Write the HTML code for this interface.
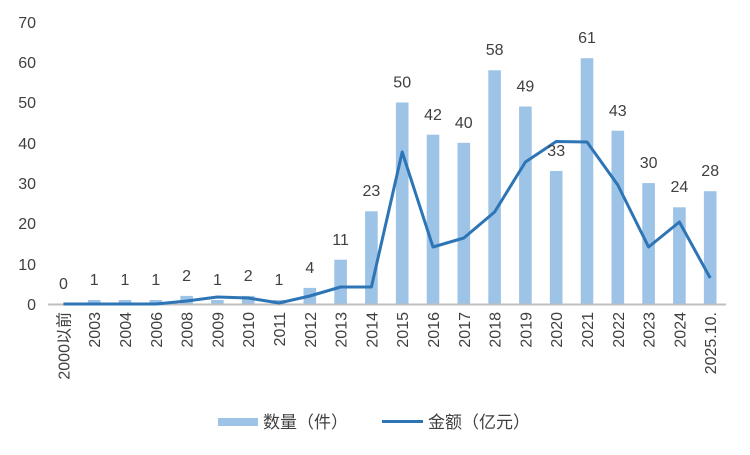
<!DOCTYPE html>
<html><head><meta charset="utf-8"><style>
html,body{margin:0;padding:0;background:#fff;}
svg text{font-family:"Liberation Sans","Noto Sans CJK SC",sans-serif;fill:#404040;}
</style></head><body>
<svg width="750" height="450" viewBox="0 0 750 450" xmlns="http://www.w3.org/2000/svg">
<g font-size="16" text-anchor="end">
<text x="36" y="310">0</text><text x="36" y="270">10</text><text x="36" y="229">20</text><text x="36" y="189">30</text><text x="36" y="149">40</text><text x="36" y="108">50</text><text x="36" y="68">60</text><text x="36" y="28">70</text>
</g>
<g fill="#9dc3e6">
<rect x="87.9" y="300" width="12.6" height="4"/>
<rect x="118.7" y="300" width="12.6" height="4"/>
<rect x="149.5" y="300" width="12.6" height="4"/>
<rect x="180.3" y="295.9" width="12.6" height="8.1"/>
<rect x="211.1" y="300" width="12.6" height="4"/>
<rect x="241.9" y="295.9" width="12.6" height="8.1"/>
<rect x="272.7" y="300" width="12.6" height="4"/>
<rect x="303.5" y="287.9" width="12.6" height="16.1"/>
<rect x="334.3" y="259.7" width="12.6" height="44.3"/>
<rect x="365.1" y="211.3" width="12.6" height="92.7"/>
<rect x="395.9" y="102.5" width="12.6" height="201.5"/>
<rect x="426.7" y="134.7" width="12.6" height="169.3"/>
<rect x="457.5" y="142.8" width="12.6" height="161.2"/>
<rect x="488.3" y="70.3" width="12.6" height="233.7"/>
<rect x="519.1" y="106.5" width="12.6" height="197.5"/>
<rect x="549.9" y="171" width="12.6" height="133"/>
<rect x="580.7" y="58.2" width="12.6" height="245.8"/>
<rect x="611.5" y="130.7" width="12.6" height="173.3"/>
<rect x="642.3" y="183.1" width="12.6" height="120.9"/>
<rect x="673.1" y="207.3" width="12.6" height="96.7"/>
<rect x="703.9" y="191.2" width="12.6" height="112.8"/>
</g>
<line x1="48" y1="304.5" x2="726" y2="304.5" stroke="#bfbfbf" stroke-width="2"/>
<polyline fill="none" stroke="#2e75b6" stroke-width="3" stroke-linejoin="round" points="63.4,304 94.2,304 125,304 155.8,304 186.6,301 217.4,297 248.2,298 279,303 309.8,296 340.6,287 371.4,287 402.2,152 433,247 463.8,238 494.6,212 525.4,162 556.2,141.5 587,142 617.8,185 648.6,247 679.4,222 710.2,278"/>
<g font-size="16" text-anchor="middle">
<text x="63.4" y="289">0</text><text x="94.2" y="285">1</text><text x="125" y="285">1</text><text x="155.8" y="285">1</text><text x="186.6" y="281">2</text><text x="217.4" y="285">1</text><text x="248.2" y="281">2</text><text x="279" y="285">1</text><text x="309.8" y="273">4</text><text x="340.6" y="245">11</text><text x="371.4" y="196">23</text><text x="402.2" y="87.5">50</text><text x="433" y="120">42</text><text x="463.8" y="128">40</text><text x="494.6" y="55">58</text><text x="525.4" y="91.5">49</text><text x="556.2" y="156">33</text><text x="587" y="43">61</text><text x="617.8" y="116">43</text><text x="648.6" y="168">30</text><text x="679.4" y="192">24</text><text x="710.2" y="176">28</text>
</g>
<g font-size="16" text-anchor="end">
<text transform="translate(69.4,312) rotate(-90)">2000以前</text>
<text transform="translate(100.2,312) rotate(-90)">2003</text>
<text transform="translate(131,312) rotate(-90)">2004</text>
<text transform="translate(161.8,312) rotate(-90)">2006</text>
<text transform="translate(192.6,312) rotate(-90)">2008</text>
<text transform="translate(223.4,312) rotate(-90)">2009</text>
<text transform="translate(254.2,312) rotate(-90)">2010</text>
<text transform="translate(285,312) rotate(-90)">2011</text>
<text transform="translate(315.8,312) rotate(-90)">2012</text>
<text transform="translate(346.6,312) rotate(-90)">2013</text>
<text transform="translate(377.4,312) rotate(-90)">2014</text>
<text transform="translate(408.2,312) rotate(-90)">2015</text>
<text transform="translate(439,312) rotate(-90)">2016</text>
<text transform="translate(469.8,312) rotate(-90)">2017</text>
<text transform="translate(500.6,312) rotate(-90)">2018</text>
<text transform="translate(531.4,312) rotate(-90)">2019</text>
<text transform="translate(562.2,312) rotate(-90)">2020</text>
<text transform="translate(593,312) rotate(-90)">2021</text>
<text transform="translate(623.8,312) rotate(-90)">2022</text>
<text transform="translate(654.6,312) rotate(-90)">2023</text>
<text transform="translate(685.4,312) rotate(-90)">2024</text>
<text transform="translate(716.2,312) rotate(-90)">2025.10.</text>
</g>
<rect x="218" y="418" width="40" height="8" fill="#9dc3e6"/>
<text x="263" y="428" font-size="17">数量（件）</text>
<line x1="382" y1="421.5" x2="423" y2="421.5" stroke="#2e75b6" stroke-width="3"/>
<text x="428" y="428" font-size="17">金额（亿元）</text>
</svg>
</body></html>
